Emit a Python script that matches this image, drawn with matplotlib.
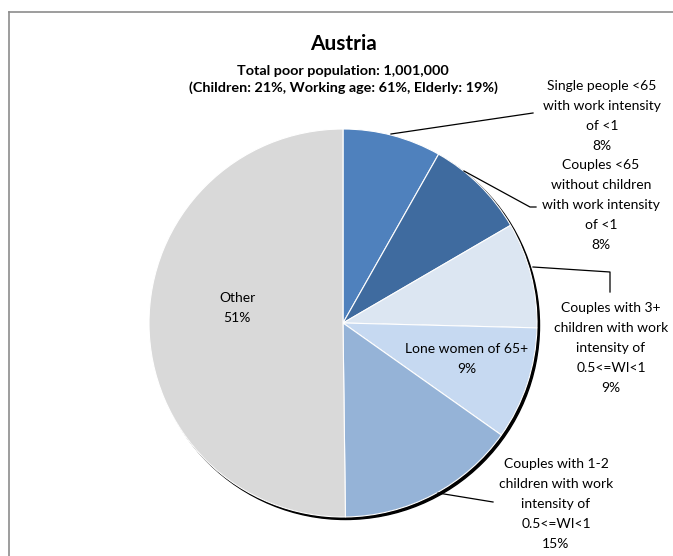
import matplotlib
matplotlib.use("Agg")
import matplotlib.pyplot as plt
from matplotlib.patches import Circle
from matplotlib.lines import Line2D

# ---- data ----
categories = [
    "Single people <65\nwith work intensity\nof <1",
    "Couples <65\nwithout children\nwith work intensity\nof <1",
    "Couples with 3+\nchildren with work\nintensity of\n0.5<=WI<1",
    "Lone women of 65+",
    "Couples with 1-2\nchildren with work\nintensity of\n0.5<=WI<1",
    "Other",
]
shares = [8.2, 8.4, 8.8, 9.4, 15.0, 50.2]          # slice sizes as drawn
pct_labels = ["8%", "8%", "9%", "9%", "15%", "51%"]  # percentages as printed
colors = ["#4F81BD", "#3F6B9F", "#DCE6F2", "#C6D9F1", "#95B3D7", "#D9D9D9"]

title = "Austria"
subtitle = "Total poor population: 1,001,000\n(Children: 21%, Working age: 61%, Elderly: 19%)"

W, H = 673, 556
fig = plt.figure(figsize=(W / 100, H / 100), dpi=100)
ax = fig.add_axes([0, 0, 1, 1])
ax.set_xlim(0, W)
ax.set_ylim(0, H)
ax.set_aspect("equal")
ax.axis("off")

FONT = "Lato"

def Y(y):  # image row -> data y
    return H - y

cx, cy, R = 343, Y(323), 194

# shadow
ax.add_patch(Circle((cx + 2.5, cy - 2.5), R, color="black", zorder=1))

wedges, _ = ax.pie(shares, colors=colors, startangle=90, counterclock=False,
                   center=(cx, cy), radius=R,
                   wedgeprops=dict(edgecolor="white", linewidth=0.8),
                   frame=True)
for w in wedges:
    w.set_zorder(2)
ax.set_xlim(0, W)
ax.set_ylim(0, H)
ax.axis("off")

# border of chart area
fig.add_artist(Line2D([9 / W, 1], [1 - 12 / H, 1 - 12 / H], color="#8c8c8c", lw=1.2, transform=fig.transFigure))
fig.add_artist(Line2D([9 / W, 9 / W], [0, 1 - 12 / H], color="#8c8c8c", lw=1.2, transform=fig.transFigure))

# titles
ax.text(343, Y(44), title, ha="center", va="center", fontsize=15, fontweight="bold", family=FONT)
ax.text(343, Y(79.5), subtitle, ha="center", va="center", fontsize=10.4, fontweight="bold",
        family=FONT, linespacing=1.45)

lab = dict(ha="center", va="center", fontsize=10, family=FONT, linespacing=1.8, zorder=5)

# label positions (image pixels)
label_pos = [(602, 116), (601, 205), (611, 348), (467, 359), (556, 504), (237, 308)]
for name, pct, (lx, ly) in zip(categories, pct_labels, label_pos):
    ax.text(lx, Y(ly), f"{name}\n{pct}", **lab)

# leader lines (image pixels)
leaders = [
    [(391, 134), (533, 113)],
    [(464, 171), (530, 207), (536, 207)],
    [(533, 267), (610, 272), (610, 292)],
    [(438, 493), (493, 502)],
]
for pts in leaders:
    xs = [p[0] for p in pts]
    ys = [Y(p[1]) for p in pts]
    ax.plot(xs, ys, color="black", lw=0.9, zorder=4)

fig.savefig("out.png", dpi=100)
